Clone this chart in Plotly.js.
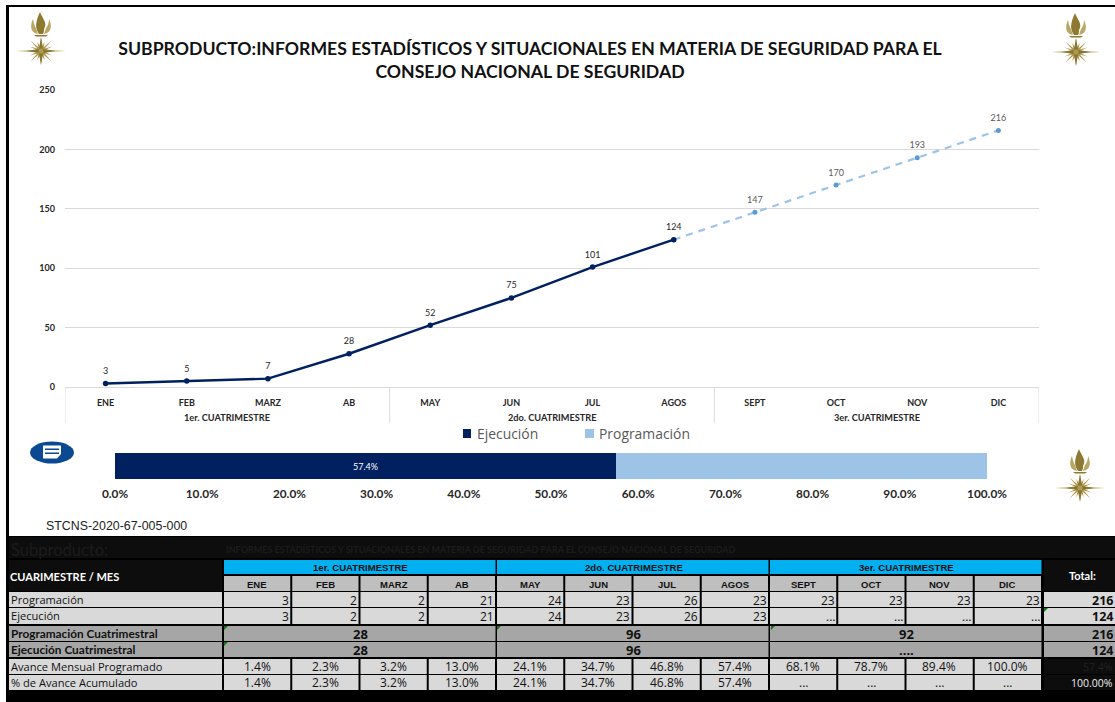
<!DOCTYPE html>
<html><head><meta charset="utf-8">
<script src="https://cdn.plot.ly/plotly-3.0.1.min.js"></script>
<style>html,body{margin:0;padding:0;background:#fff}#c{width:1115px;height:702px}</style></head>
<body><div id="c"></div>
<script>
const W=1115,H=702;
const titleText="SUBPRODUCTO:INFORMES ESTADÍSTICOS Y SITUACIONALES EN MATERIA DE SEGURIDAD PARA EL<br>CONSEJO NACIONAL DE SEGURIDAD";
const subLabel="Subproducto:";
const subText="INFORMES ESTADÍSTICOS Y SITUACIONALES EN MATERIA DE SEGURIDAD PARA EL CONSEJO NACIONAL DE SEGURIDAD";
const code="STCNS-2020-67-005-000";
const cuatrimestres=["1er. CUATRIMESTRE","2do. CUATRIMESTRE","3er. CUATRIMESTRE"];
const months=["ENE","FEB","MARZ","AB","MAY","JUN","JUL","AGOS","SEPT","OCT","NOV","DIC"];
const ejecAcum=[3,5,7,28,52,75,101,124,null,null,null,null];
const progAcum=[null,null,null,null,null,null,null,124,147,170,193,216];
const progLabels=["","","","","","","","","147","170","193","216"];
const avanceEjec=0.574, avanceResto=0.426;
const programacion=["3","2","2","21","24","23","26","23","23","23","23","23"];
const ejecucion=["3","2","2","21","24","23","26","23","...","...","...","..."];
const progCuatri=["28","96","92"];
const ejecCuatri=["28","96","...."];
const avanceMensual=["1.4%","2.3%","3.2%","13.0%","24.1%","34.7%","46.8%","57.4%","68.1%","78.7%","89.4%","100.0%"];
const avanceAcum=["1.4%","2.3%","3.2%","13.0%","24.1%","34.7%","46.8%","57.4%","...","...","...","..."];
const totals=["216","124","216","124","57.4%","100.00%"];
const rowLabels=["Programación","Ejecución","Programación Cuatrimestral","Ejecución Cuatrimestral","Avance Mensual Programado","% de Avance Acumulado"];

const NAVY="#002060",LIGHT="#9DC3E6",LATO="Lato, sans-serif",OPEN="'Open Sans', sans-serif",ARIAL="'Liberation Sans', Arial, sans-serif";
const px=x=>x/W, py=y=>1-y/H;
const shapes=[],ann=[];
function rect(x0,y0,x1,y1,fill){shapes.push({type:"rect",xref:"paper",yref:"paper",x0:px(x0),x1:px(x1),y0:py(y0),y1:py(y1),fillcolor:fill,line:{width:0},layer:"below"});}
function txt(x,y,t,size,color,opt){opt=opt||{};ann.push({xref:"paper",yref:"paper",x:px(x),y:py(y),text:t,showarrow:false,xanchor:opt.a||"center",yanchor:"middle",borderpad:0,font:{family:opt.f||OPEN,size:size,color:color,weight:opt.b?700:400}});}
function pixelPath(cx,cy,path,fill,layer){shapes.push({type:"path",xref:"paper",yref:"paper",xsizemode:"pixel",ysizemode:"pixel",xanchor:px(cx),yanchor:py(cy),path:path,fillcolor:fill,line:{width:0},layer:layer||"above"});}

/* frame */
rect(6,5,1115,7,"#000");rect(6,5,9,540,"#000");
/* table bands */
rect(6,536,1115,702,"#000");rect(9,537,1115,558,"#0D0D0D");rect(9,560,222,591,"#0D0D0D");rect(1044,560,1115,591,"#0D0D0D");
txt(10,550,subLabel,16.5,"#1c1c1c",{a:"left",f:LATO});
txt(225,549,subText,9,"#1c1c1c",{a:"left",b:true,f:LATO});
txt(9,576,"CUARIMESTRE / MES",11,"#fff",{a:"left",b:true,f:LATO});
txt(1082,575,"Total:",11,"#fff",{b:true,f:LATO});
const colX=i=>224+i*68.25;
const grayL="#D9D9D9",grayM="#A6A6A6",grayH="#BFBFBF";
const rows=[[592,607],[608,624],[626,641],[642,657],[659,674],[675,690]];
cuatrimestres.forEach((c,g)=>{rect(colX(g*4),560,colX(g*4+4)-1.5,574,"#00B0F0");txt((colX(g*4)+colX(g*4+4))/2,567.5,c,9.6,"#111",{b:true,f:ARIAL});});
months.forEach((m,i)=>{rect(colX(i),576,colX(i+1)-2,591,grayH);txt(colX(i)+33,584,m,9.5,"#111",{b:true,f:ARIAL});});
rows.forEach((r,k)=>{
  const gray=(k==2||k==3)?grayM:grayL;
  const bold=k==2||k==3;
  rect(9,r[0],222,r[1],gray);
  txt(10,(r[0]+r[1])/2-.5,rowLabels[k],bold?11.8:11.1,"#111",{a:"left",b:bold,f:bold?LATO:OPEN});
  if(k<=1||k>=4){
    const vals=[programacion,ejecucion,0,0,avanceMensual,avanceAcum][k];
    months.forEach((m,i)=>{rect(colX(i),r[0],colX(i+1)-2,r[1],gray);
      if(k<=1)txt(colX(i+1)-2.5,(r[0]+r[1])/2+.5,vals[i],12,"#111",{a:"right"});
      else txt(colX(i)+33,(r[0]+r[1])/2-.5,vals[i],12,"#111");});
  } else {
    const vals=k==2?progCuatri:ejecCuatri;
    cuatrimestres.forEach((c,g)=>{rect(colX(g*4),r[0],colX(g*4+4)-1.5,r[1],gray);txt((colX(g*4)+colX(g*4+4))/2,(r[0]+r[1])/2,vals[g],13,"#111",{b:true});});
  }
  if(k<=3){rect(1044,r[0],1115,r[1],gray);txt(1114,(r[0]+r[1])/2+.5,totals[k],12.5,"#111",{a:"right",b:true});}
  else {rect(1044,r[0],1115,r[1],"#0D0D0D");txt(1114,(r[0]+r[1])/2,totals[k],10.5,k==4?"#222":"#eee",{a:"right"});}
});
/* little green error flags */
[[224,626],[497,626],[771,626],[224,642],[1044,608]].forEach(p=>pixelPath(p[0],p[1],"M0,0 L4,0 L0,-4 Z","#0B7A0B"));

/* legend */
rect(463,429,471,438,NAVY);txt(476,433.5,"Ejecución",13.9,"#595959",{a:"left"});
rect(585,429,594,438,LIGHT);txt(598,433.5,"Programación",13.9,"#595959",{a:"left"});
txt(45,526,code,12.4,"#222",{a:"left",f:ARIAL});

/* quarter groups below the month axis */
[-0.5,3.5,7.5,11.5].forEach(v=>shapes.push({type:"line",xref:"x",yref:"paper",x0:v,x1:v,y0:py(387),y1:py(423),line:{color:"#D9D9D9",width:1},layer:"below"}));
cuatrimestres.forEach((c,g)=>ann.push({xref:"x",yref:"paper",x:g*4+1.5,y:py(417),text:c,showarrow:false,yanchor:"middle",borderpad:0,font:{family:LATO,size:9.2,color:"#262626",weight:700}}));

/* emblem (gold star and flame) */
function starPath(){const spikes=[[0,25],[22.5,12],[45,15],[67.5,10],[90,14],[112.5,10],[135,15],[157.5,12],[180,25],[202.5,12],[225,15],[247.5,10],[270,14],[292.5,10],[315,15],[337.5,12]];
  let d="";spikes.forEach((s,i)=>{const a=s[0]*Math.PI/180,b=(s[0]+11.25)*Math.PI/180;
    d+=(i?"L":"M")+(s[1]*Math.cos(a)).toFixed(1)+","+(s[1]*Math.sin(a)).toFixed(1)+" L"+(4.6*Math.cos(b)).toFixed(1)+","+(4.6*Math.sin(b)).toFixed(1)+" ";});return d+"Z";}
function emblem(cx,cy){
  pixelPath(cx,cy,starPath(),"#AD9A52");
  pixelPath(cx,cy,"M0,14 L2.5,0 L0,-14 L-2.5,0 Z M-14,0 L0,2.5 L14,0 L0,-2.5 Z","#8A7632");
  const fy=cy-14;
  pixelPath(cx,fy,"M-2,3 C-6,9 -6,14 -1,25 C1,19 7,14 3,8 C3,6 3,5 2,3 Z","#8D7A30");
  pixelPath(cx,fy,"M-3,3 C-11,4 -11,12 -8,18 C-7,13 -6,10 -5,9 Z M3,3 C11,4 11,12 8,18 C8,13 6,10 5,9 Z","#B9A766");
  pixelPath(cx,fy,"M-7,2 L7,2 L5,.5 L-5,.5 Z","#8D7A30");
}
emblem(41,51);emblem(1076,52);emblem(1080,488);

/* document icon */
shapes.push({type:"circle",xref:"paper",yref:"paper",x0:px(30),x1:px(74),y0:py(441.5),y1:py(463.5),fillcolor:"#0B4A93",line:{width:0},layer:"above"});
pixelPath(52,452,"M-9,6.5 L9,6.5 L9,-2 L5,-6.5 L-9,-6.5 Z","#fff");
pixelPath(52,452,"M-7,-.5 L7,-.5 L7,-2 L-7,-2 Z M-7,3.5 L7,3.5 L7,2 L-7,2 Z","#0B4A93");

const traces=[
 {type:"scatter",mode:"lines+markers",name:"Programación",x:months,y:progAcum,
  line:{color:LIGHT,width:2.2,dash:"7px,6px"},marker:{color:"#5B9BD5",size:5},xaxis:"x",yaxis:"y",showlegend:false},
 {type:"scatter",mode:"lines+markers",name:"Ejecución",x:months,y:ejecAcum,
  line:{color:NAVY,width:2.4},marker:{color:NAVY,size:5.5},xaxis:"x",yaxis:"y",showlegend:false},
 /* labels sit on invisible, larger markers so that they clear the line like the reference */
 {type:"scatter",mode:"markers+text",name:"Programación",x:months,y:progAcum,text:progLabels,textposition:"top center",cliponaxis:false,hoverinfo:"skip",
  marker:{size:10,opacity:0},textfont:{family:LATO,size:9,color:"#595959"},xaxis:"x",yaxis:"y",showlegend:false},
 {type:"scatter",mode:"markers+text",name:"Ejecución",x:months,y:ejecAcum,text:ejecAcum.map(v=>v==null?"":String(v)),textposition:"top center",cliponaxis:false,hoverinfo:"skip",
  marker:{size:10,opacity:0},textfont:{family:LATO,size:9,color:"#262626"},xaxis:"x",yaxis:"y",showlegend:false},
 {type:"bar",orientation:"h",name:"Ejecución",x:[avanceEjec],y:["Avance"],marker:{color:NAVY},text:["57.4%"],texttemplate:"%{text}",textposition:"inside",insidetextanchor:"middle",
  textfont:{family:LATO,size:9,color:"#fff"},xaxis:"x2",yaxis:"y2",showlegend:false},
 {type:"bar",orientation:"h",name:"Programación",x:[avanceResto],y:["Avance"],marker:{color:LIGHT},textposition:"none",xaxis:"x2",yaxis:"y2",showlegend:false}
];
const layout={
 width:W,height:H,margin:{l:0,r:0,t:0,b:0},paper_bgcolor:"#fff",plot_bgcolor:"rgba(0,0,0,0)",showlegend:false,barmode:"stack",bargap:0,
 title:{text:titleText,x:530/W,xanchor:"center",xref:"paper",y:py(55),yref:"paper",yanchor:"middle",font:{family:LATO,size:17.65,color:"#111",weight:700}},
 xaxis:{domain:[px(65),px(1039)],type:"category",categoryorder:"array",categoryarray:months,range:[-0.5,11.5],anchor:"y",showgrid:false,showline:true,linecolor:"#D9D9D9",linewidth:1,ticks:"",ticklabelstandoff:7,
  tickfont:{family:LATO,size:9,color:"#262626",weight:700},fixedrange:true},
 yaxis:{domain:[py(387),py(90)],range:[0,250],dtick:50,anchor:"x",gridcolor:"#D9D9D9",gridwidth:1,zeroline:false,showline:false,ticks:"",ticklabelstandoff:9,
  tickfont:{family:LATO,size:9,color:"#262626",weight:700},fixedrange:true},
 xaxis2:{domain:[px(115),px(987)],range:[0,1],dtick:0.1,tickformat:".1%",anchor:"y2",showgrid:false,zeroline:false,showline:false,ticks:"outside",ticklen:4,tickcolor:"rgba(0,0,0,0)",
  tickfont:{family:LATO,size:11.8,color:"#262626",weight:700},fixedrange:true},
 yaxis2:{domain:[py(479),py(453)],anchor:"x2",type:"category",showticklabels:false,showgrid:false,zeroline:false,showline:false,ticks:"",fixedrange:true},
 shapes:shapes,annotations:ann
};
Plotly.newPlot("c",traces,layout,{displayModeBar:false,responsive:false});
</script></body></html>
